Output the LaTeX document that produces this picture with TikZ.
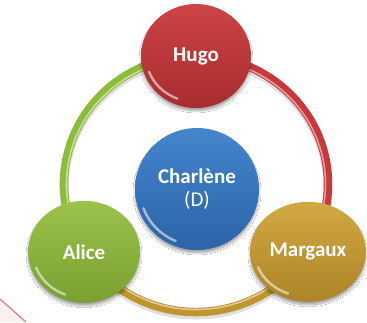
\documentclass[tikz,border=0pt]{standalone}
\usepackage{fontspec}
\setmainfont{Carlito}
\usetikzlibrary{shapes.geometric,shadows.blur}
\definecolor{hugoT}{HTML}{CC4446}
\definecolor{hugoB}{HTML}{A82C2E}
\definecolor{chaT}{HTML}{4485CC}
\definecolor{chaB}{HTML}{2C64A8}
\definecolor{aliT}{HTML}{9BC24A}
\definecolor{aliB}{HTML}{7AA032}
\definecolor{marT}{HTML}{D2A843}
\definecolor{marB}{HTML}{AD8427}
\definecolor{ringR}{HTML}{C8383A}
\definecolor{ringG}{HTML}{8DBB3A}
\definecolor{ringY}{HTML}{BF952F}
\definecolor{cornerLine}{HTML}{D38E8E}
\definecolor{cornerFill}{HTML}{FAF0F0}
\begin{document}
\begin{tikzpicture}[x=1pt,y=-1pt,
  bubble/.style={ellipse, inner sep=0pt, text=white, align=center,
    font=\bfseries\fontsize{21}{25}\selectfont,
    blur shadow={shadow xshift=0pt, shadow yshift=-3pt, shadow blur steps=8, shadow opacity=35}},
  tube/.style={line width=8.5pt},
  shine/.style={white, opacity=.5, line width=1.6pt},
  gloss/.style={white, opacity=.55, line width=2.4pt, line cap=round}]
\path[use as bounding box, fill=white] (0,0) rectangle (367,322);
% corner mark
\fill[cornerFill] (0,299) -- (26,322) -- (0,322) -- cycle;
\draw[cornerLine, line width=1.4pt] (0,299) -- (26,322);
% ring
\coordinate (ring) at (196,184);
\path (ring) ++(-90:132 and 128) coordinate (pH);
\path (ring) ++(32:132 and 128) coordinate (pM);
\path (ring) ++(148:132 and 128) coordinate (pA);
\draw[black!12, line width=9pt] ([yshift=-3pt]pH) arc[start angle=-90, end angle=270, x radius=132, y radius=128];
\draw[tube, ringR] (pH) arc[start angle=-90, end angle=32, x radius=132, y radius=128];
\draw[tube, ringY] (pM) arc[start angle=32, end angle=148, x radius=132, y radius=128];
\draw[tube, ringG] (pA) arc[start angle=148, end angle=270, x radius=132, y radius=128];
\path (ring) ++(-90:129.5 and 125.5) coordinate (sH);
\path (ring) ++(32:129.5 and 125.5) coordinate (sM);
\path (ring) ++(148:129.5 and 125.5) coordinate (sA);
\draw[shine] (sH) arc[start angle=-90, end angle=32, x radius=129.5, y radius=125.5];
\draw[shine] (sM) arc[start angle=32, end angle=148, x radius=129.5, y radius=125.5];
\draw[shine] (sA) arc[start angle=148, end angle=270, x radius=129.5, y radius=125.5];
% bubbles
\node[bubble, minimum width=110pt, minimum height=104pt, top color=hugoT, bottom color=hugoB] (hugo) at (pH) {Hugo};
\node[bubble, minimum width=112pt, minimum height=102pt, top color=aliT, bottom color=aliB] (alice) at (pA) {Alice};
\node[bubble, minimum width=116pt, minimum height=100pt, top color=marT, bottom color=marB] (margaux) at (pM) {Margaux};
\node[bubble, minimum width=124pt, minimum height=122pt, top color=chaT, bottom color=chaB] (charlene) at (197,189) {Charlène\\[-2pt]\mdseries(D)};
% glossy highlights
\draw[gloss] (hugo.center) ++(112:50 and 46) arc[start angle=112, end angle=160, x radius=50, y radius=46];
\draw[gloss] (alice.center) ++(112:51 and 46) arc[start angle=112, end angle=160, x radius=51, y radius=46];
\draw[gloss] (margaux.center) ++(112:53 and 45) arc[start angle=112, end angle=160, x radius=53, y radius=45];
\draw[gloss] (charlene.center) ++(112:57 and 56) arc[start angle=112, end angle=160, x radius=57, y radius=56];
\end{tikzpicture}
\end{document}
